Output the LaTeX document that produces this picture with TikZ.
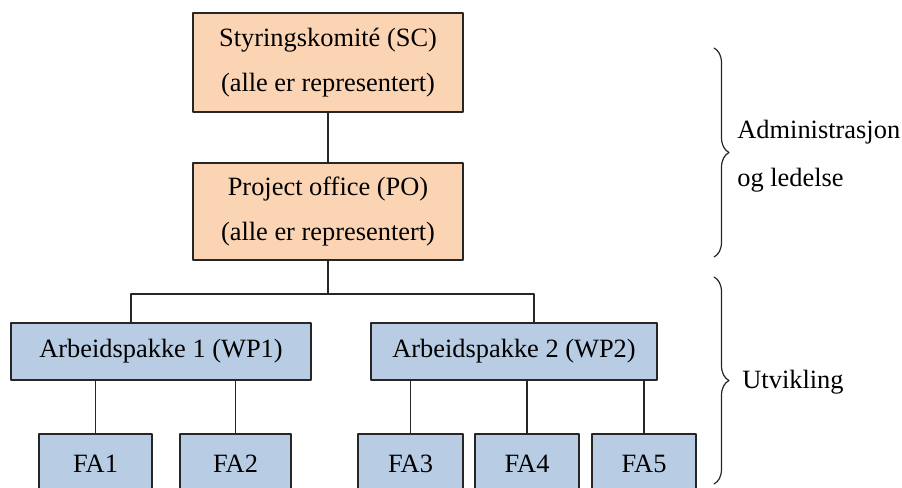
\documentclass[tikz,border=0pt]{standalone}
\providecommand{\PxUnit}{0.5pt}
\usepackage{fontspec}
\setmainfont{Liberation Serif}
\usepackage{tikz}
\usetikzlibrary{calc, positioning, decorations.pathreplacing}

\definecolor{leadfill}{HTML}{FBD4B4}
\definecolor{wpfill}{HTML}{B8CCE4}

\tikzset{
	box/.style={draw=black!85, line width=0.6pt, inner sep=0pt, align=center,
		font=\fontsize{13.2}{22.5}\selectfont},
	leadbox/.style={box, fill=leadfill, minimum width=135pt, minimum height=49.5pt},
	wpbox/.style={box, fill=wpfill, minimum height=28.5pt},
	fabox/.style={box, fill=wpfill, minimum height=30pt},
	link/.style={draw=black!85, line width=0.6pt},
	sidebrace/.style={draw=black!85, line width=0.6pt, decorate,
		decoration={brace, amplitude=7.5pt}},
	sidetext/.style={anchor=west, inner sep=0pt, align=left,
		font=\fontsize{13.2}{24}\selectfont}
}

\begin{document}
\begin{tikzpicture}[x=\PxUnit, y=-\PxUnit, line cap=round, line join=round]

\useasboundingbox (0,0) rectangle (902,488);

% ledelse
\node[leadbox] (SC) at (328,62.5) {Styringskomité (SC)\\(alle er representert)};
\node[leadbox, minimum height=48.5pt] (PO) at (328,211.5) {Project office (PO)\\(alle er representert)};

% arbeidspakker
\node[wpbox, minimum width=150pt] (WP1) at (161,351.5) {Arbeidspakke 1 (WP1)};
\node[wpbox, minimum width=143pt] (WP2) at (514,351.5) {Arbeidspakke 2 (WP2)};

\node[fabox, minimum width=56.5pt] (FA1) at (95.5,464) {FA1};
\node[fabox, minimum width=55.5pt] (FA2) at (235.5,464) {FA2};
\node[fabox, minimum width=52.5pt] (FA3) at (410.5,464) {FA3};
\node[fabox, minimum width=52pt] (FA4) at (527,464) {FA4};
\node[fabox, minimum width=52pt] (FA5) at (644,464) {FA5};

\coordinate (busL) at (131,294);
\coordinate (busR) at (534,294);

\draw[link] (SC.south) -- (PO.north);
\draw[link] (PO.south) -- (PO.south |- busL);
\draw[link] (busL |- WP1.north) -- (busL) -- (busR) -- (busR |- WP2.north);

\foreach \fa/\wp in {FA1/WP1, FA2/WP1, FA3/WP2, FA4/WP2, FA5/WP2}
	\draw[link] (\fa.north) -- (\fa.north |- \wp.south);

% klammer
\coordinate (admTop) at (714,48);
\coordinate (admBot) at (714,257);
\coordinate (devTop) at (714,277);
\coordinate (devBot) at (714,484);

\draw[sidebrace] (admTop) -- (admBot);
\draw[sidebrace] (devTop) -- (devBot);

\node[sidetext] (adm) at (737,156) {Administrasjon\\og ledelse};
\node[sidetext] (dev) at (742,382) {Utvikling};

\end{tikzpicture}
\end{document}
